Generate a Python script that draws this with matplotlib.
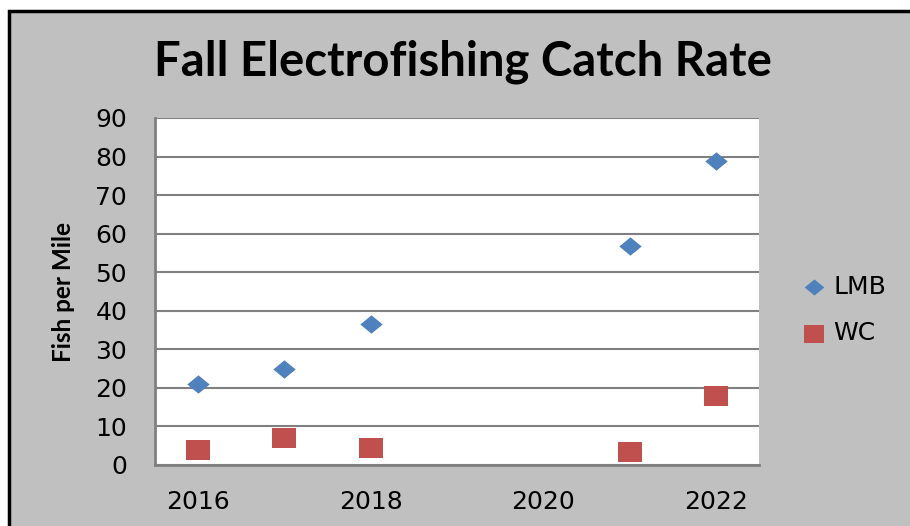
import matplotlib
matplotlib.use("Agg")
import matplotlib.pyplot as plt
from matplotlib.patches import Rectangle

# Fall electrofishing survey results
lmb_years = [2016, 2017, 2018, 2021, 2022]
lmb_rate = [21.1, 25.0, 36.5, 56.7, 78.9]
wc_years = [2016, 2017, 2018, 2021, 2022]
wc_rate = [3.9, 7.0, 4.5, 3.5, 18.0]
year_ticks = [2016, 2018, 2020, 2022]
rate_ticks = list(range(0, 91, 10))

# slightly wide markers
diamond = [(0, 0.82), (1, 0), (0, -0.82), (-1, 0), (0, 0.82)]
box = [(-1, -0.83), (1, -0.83), (1, 0.83), (-1, 0.83), (-1, -0.83)]

fig = plt.figure(figsize=(9.10, 5.26), dpi=100, facecolor="white")

# gray chart area with black frame, kept behind the axes
frame = Rectangle((9 / 910, -0.1), 1.2, 1.1 - 12 / 526 + 0.002,
                  transform=fig.transFigure, facecolor="#c0c0c0",
                  edgecolor="black", linewidth=2.5, zorder=-5)
fig.patches.append(frame)

ax = fig.add_axes([155 / 910, 61 / 526, 604 / 910, 347 / 526])
ax.set_facecolor("white")

ax.scatter(lmb_years, lmb_rate, marker=diamond, s=260, color="#4f81bd",
           linewidths=0, label="LMB", zorder=3)
ax.scatter(wc_years, wc_rate, marker=box, s=285, color="#c0504d",
           linewidths=0, label="WC", zorder=3)

ax.set_xlim(2015.5, 2022.5)
ax.set_ylim(0, 90)
ax.set_xticks(year_ticks)
ax.set_yticks(rate_ticks)
ax.tick_params(length=0, labelsize=18)
ax.tick_params(axis="y", pad=20)
ax.tick_params(axis="x", pad=18)
ax.yaxis.grid(True, color="#808080", linewidth=1.5)
ax.set_axisbelow(True)
for side in ["top", "right"]:
    ax.spines[side].set_visible(False)
for side in ["left", "bottom"]:
    ax.spines[side].set_color("#808080")
    ax.spines[side].set_linewidth(2)

ax.set_ylabel("Fish per Mile", family=["Lato", "DejaVu Sans"],
              fontweight="bold", fontsize=17.5)
ax.yaxis.set_label_coords(-0.1325, 0.5)

fig.text(463 / 910, 1 - 62 / 526, "Fall Electrofishing Catch Rate",
         family=["Lato", "DejaVu Sans"], fontweight="bold",
         fontsize=34, ha="center", va="center")

fig.legend(loc="center left", bbox_to_anchor=(801 / 910, 1 - 310 / 526),
           frameon=False, fontsize=18, borderpad=0, borderaxespad=0,
           handlelength=1.0, handletextpad=0.28, labelspacing=0.9,
           scatterpoints=1, markerscale=0.88)

fig.savefig("out.png", dpi=100, facecolor=fig.get_facecolor())
